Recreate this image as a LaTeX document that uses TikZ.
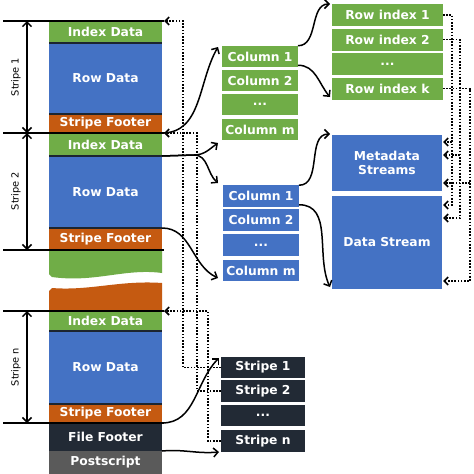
\documentclass[tikz,border=0pt]{standalone}
\usepackage{fontspec}
\setmainfont{DejaVu Sans}
\usetikzlibrary{arrows.meta,calc}
\definecolor{cgreen}{HTML}{70AD47}
\definecolor{cblue}{HTML}{4472C4}
\definecolor{corange}{HTML}{C55A11}
\definecolor{cdark}{HTML}{222A35}
\definecolor{cgray}{HTML}{5A5A5A}
\definecolor{csep}{HTML}{1C2530}
\begin{document}
\begin{tikzpicture}[x=1pt,y=1pt,
  blk/.style={inner sep=0pt, outer sep=0pt, text=white, font=\bfseries\fontsize{12.3}{14.5}\selectfont, align=center},
  lcol/.style={blk, minimum width=113pt},
  gcol/.style={blk, fill=cgreen, minimum width=76pt, minimum height=21.5pt},
  bcol/.style={blk, fill=cblue, minimum width=76pt, minimum height=21.5pt},
  rbox/.style={blk, fill=cgreen, minimum width=111pt, minimum height=22pt},
  sbox/.style={blk, fill=cdark, minimum width=84pt, minimum height=21.5pt},
  sepline/.style={draw=csep, line width=1.8pt},
  sline/.style={draw=black, line width=1.5pt},
  darr/.style={line width=1.5pt, {Straight Barb[length=4.5pt,width=9pt]}-{Straight Barb[length=4.5pt,width=9pt]}},
  conn/.style={line width=1.5pt, -{Straight Barb[length=4.5pt,width=9pt]}},
  dconn/.style={line width=1.6pt, dash pattern=on 1.6pt off 1.6pt, -{Straight Barb[length=4pt,width=8pt]}},
  slabel/.style={font=\fontsize{9.8}{11}\selectfont, text=black, inner sep=0pt}
]
\useasboundingbox (0,0) rectangle (474,-474);
\fill[white] (0,0) rectangle (474,-474);

% left column
\node[lcol, fill=cgreen, minimum height=22pt] (idx1) at (105.5,-32) {Index Data};
\node[lcol, fill=cblue, minimum height=71pt] (row1) at (105.5,-78.5) {Row Data};
\node[lcol, fill=corange, minimum height=19pt] (sf1) at (105.5,-123.5) {Stripe Footer};
\node[lcol, fill=cgreen, minimum height=23pt] (idx2) at (105.5,-144.5) {Index Data};
\node[lcol, fill=cblue, minimum height=72pt] (row2) at (105.5,-192) {Row Data};
\node[lcol, fill=corange, minimum height=22pt] (sf2) at (105.5,-239) {Stripe Footer};
\node[lcol, fill=cgreen, minimum height=20pt] (idxn) at (105.5,-321) {Index Data};
\node[lcol, fill=cblue, minimum height=73pt] (rown) at (105.5,-367.5) {Row Data};
\node[lcol, fill=corange, minimum height=19pt] (sfn) at (105.5,-413.5) {Stripe Footer};
\node[lcol, fill=cdark, minimum height=28pt] (ff) at (105.5,-437) {File Footer};
\node[lcol, fill=cgray, minimum height=23pt] (ps) at (105.5,-462.5) {Postscript};

% wavy gap
\fill[cgreen] (sf2.south west) -- (sf2.south east) -- (162,-273)
  .. controls (125,-268) and (95,-283) .. (52,-277) -- (49,-274) -- cycle;
\fill[corange] (idxn.north west) -- (49,-291) -- (52,-288)
  .. controls (90,-291) and (120,-280) .. (162,-283) -- (idxn.north east) -- cycle;

% separators
\foreach \n in {idx1,row1,idx2,row2,idxn,rown}
  \draw[sepline] (\n.south west) -- (\n.south east);

% stripe lines
\coordinate (L1a) at (3,-21);   \coordinate (L1b) at (164,-21);
\coordinate (L2a) at (3,-133);  \coordinate (L2b) at (164,-133);
\coordinate (L3a) at (3,-250);  \coordinate (L3b) at (164,-250);
\coordinate (L4a) at (3,-311);  \coordinate (L4b) at (164,-311);
\coordinate (L5a) at (3,-423);  \coordinate (L5b) at (164,-423);
\foreach \i in {1,...,5} \draw[sline] (L\i a) -- (L\i b);
\coordinate (ax) at (27,0);
\draw[darr] (L1a -| ax) -- (L2a -| ax);
\draw[darr] (L2a -| ax) -- (L3a -| ax);
\draw[darr] (L4a -| ax) -- (L5a -| ax);
\node[slabel, rotate=90] (lab1) at (16,-77) {Stripe 1};
\node[slabel, rotate=90] (lab2) at (16,-191) {Stripe 2};
\node[slabel, rotate=90] (lab3) at (16,-367) {Stripe n};

% green columns
\node[gcol] (gc1) at (260,-56.5) {Column 1};
\node[gcol] (gc2) at (260,-80.5) {Column 2};
\node[gcol] (gc3) at (260,-104.5) {...};
\node[gcol] (gcm) at (260,-129.5) {Column m};
% row index
\node[rbox] (ri1) at (387.5,-15) {Row index 1};
\node[rbox] (ri2) at (387.5,-39.5) {Row index 2};
\node[rbox] (ri3) at (387.5,-64) {...};
\node[rbox] (rik) at (387.5,-88.5) {Row index k};
% blue columns
\node[bcol] (bc1) at (261,-196) {Column 1};
\node[bcol] (bc2) at (261,-220) {Column 2};
\node[bcol] (bc3) at (261,-245) {...};
\node[bcol] (bcm) at (261,-270.5) {Column m};
% streams
\node[blk, fill=cblue, minimum width=110pt, minimum height=56pt] (md) at (387,-163) {Metadata\\Streams};
\node[blk, fill=cblue, minimum width=110pt, minimum height=93pt] (ds) at (387,-242.5) {Data Stream};
% stripes
\node[sbox] (s1) at (263,-367.5) {Stripe 1};
\node[sbox] (s2) at (263,-391) {Stripe 2};
\node[sbox] (s3) at (263,-415.5) {...};
\node[sbox] (sn) at (263,-441) {Stripe n};

% solid connectors
\coordinate (e1) at (218,-47);
\coordinate (br) at (194,-155);
\coordinate (e2a) at (218,-143);
\coordinate (e2b) at (218,-183);
\coordinate (e3) at (218,-278);
\coordinate (e4) at (330,-4);
\coordinate (e5) at (330,-97);
\coordinate (e6) at (330,-134);
\coordinate (e7) at (330,-287);
\coordinate (e8) at (219,-358);
\coordinate (e9) at (219,-452);
\draw[conn] (sf1.south east) to[out=0,in=240] (e1);
\draw[conn] (idx2.south east) -- (br) to[out=0,in=215] (e2a);
\draw[conn] (idx2.south east) -- (br) to[out=0,in=140] (e2b);
\draw[conn] (sf2.north east) to[out=0,in=155] (e3);
\draw[conn] (gc1.north east) to[out=0,in=180] (e4);
\draw[conn] ($(gc1.south east)+(0,2)$) to[out=0,in=130] (e5);
\draw[conn] (bc1.north east) to[out=0,in=180] (e6);
\draw[conn] ($(bc1.south east)+(0,2)$) to[out=0,in=115] (e7);
\draw[conn] (sfn.south east) to[out=0,in=225] (e8);
\draw[conn] (ff.south east) to[out=5,in=185] (e9);

% dotted connectors (left)
\draw[dconn] (s1.west) -- ++(-38,0) |- (L1b);
\draw[dconn] (s2.west) -- ++(-24,0) |- (L2b);
\draw[dconn] (sn.west) -- ++(-13,0) |- (L4b);

% dotted connectors (right)
\coordinate (v1) at ($(ri1.east)+(9,0)$);
\coordinate (v2) at ($(ri2.east)+(17,0)$);
\coordinate (v3) at ($(rik.east)+(27,0)$);
\coordinate (m1) at ($(md.north east)+(1,-7)$);
\coordinate (m2) at ($(md.north east)+(1,-20)$);
\coordinate (m3) at ($(md.north east)+(1,-48)$);
\coordinate (d1) at ($(ds.north east)+(1,-9)$);
\coordinate (d2) at ($(ds.north east)+(1,-22)$);
\coordinate (d3) at ($(ds.north east)+(1,-85)$);
\draw[dconn] (ri1.east) -- (v1) |- (d1);
\draw[dconn] (v1 |- m1) -- (m1);
\draw[dconn] (ri2.east) -- (v2) |- (d2);
\draw[dconn] (v2 |- m2) -- (m2);
\draw[dconn] (rik.east) -- (v3) |- (d3);
\draw[dconn] (v3 |- m3) -- (m3);
\end{tikzpicture}
\end{document}
